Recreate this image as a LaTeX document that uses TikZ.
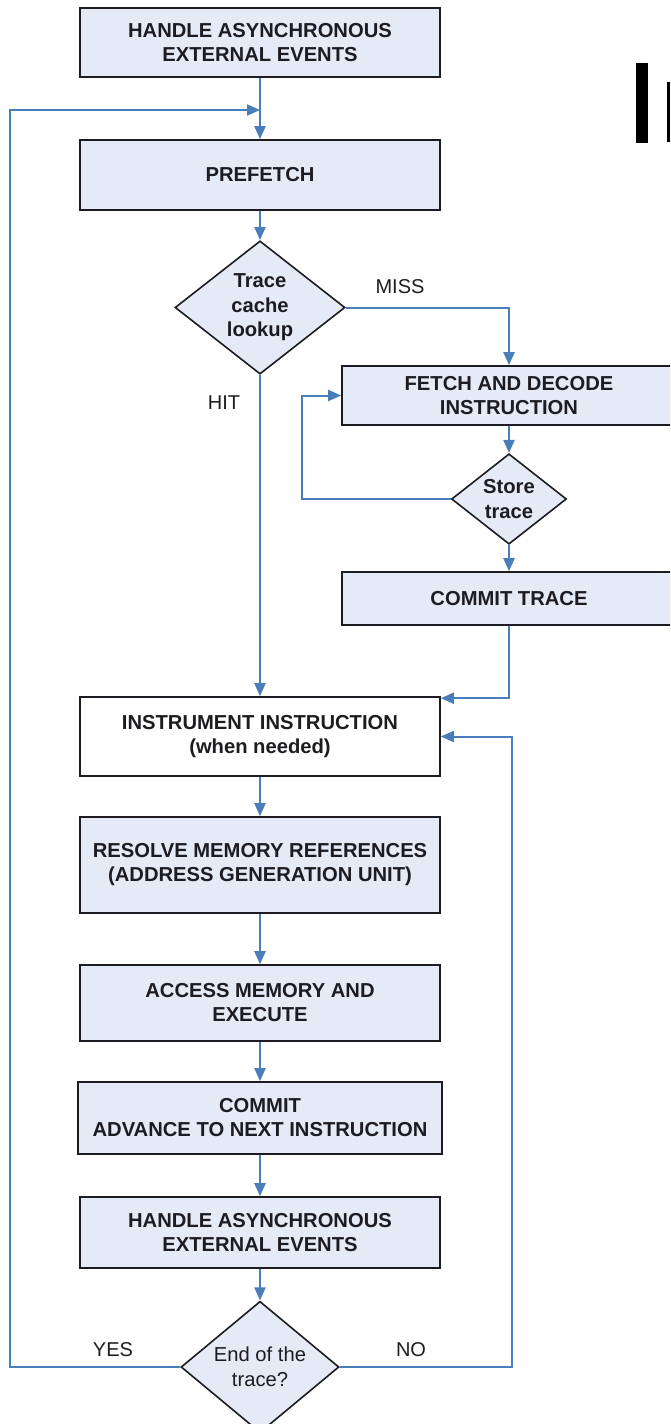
\documentclass[tikz,border=0pt]{standalone}
\usepackage{fontspec}
\setmainfont{Liberation Sans}
\usetikzlibrary{arrows.meta,shapes.geometric,calc}
\definecolor{boxfill}{RGB}{228,235,246}
\definecolor{flow}{RGB}{74,126,187}
\definecolor{ink}{RGB}{28,28,34}
\begin{document}
\begin{tikzpicture}[x=1pt,y=-1pt,
  box/.style={draw=ink, line width=1.6pt, fill=boxfill, minimum width=360pt,
    align=center, inner sep=0pt, text=ink,
    font=\fontsize{20.2}{24}\selectfont\bfseries},
  decision/.style={diamond, draw=ink, line width=1.6pt, fill=boxfill,
    inner sep=0pt, align=center, text=ink,
    font=\fontsize{20.2}{24.5}\selectfont\bfseries},
  flowline/.style={draw=flow, line width=2pt},
  arr/.style={flowline, -{Triangle[length=13pt,width=11pt]}},
  lbl/.style={text=ink, font=\fontsize{20}{24}\selectfont}]
\clip (0,0) rectangle (670,1424);
\useasboundingbox (0,0) rectangle (670,1424);

% main column of steps
\node[box, minimum height=69pt] (hae1) at (260,42.5) {HANDLE ASYNCHRONOUS\\EXTERNAL EVENTS};
\node[box, minimum height=70pt] (pre) at (260,175) {PREFETCH};
\node[decision, minimum width=170pt, minimum height=129pt] (tcl) at (260,307.5) {Trace\\cache\\lookup};

% trace cache miss path
\node[box, minimum width=334pt, minimum height=59pt] (fd) at (509,395.5) {FETCH AND DECODE\\INSTRUCTION};
\node[decision, minimum width=115pt, minimum height=82pt] (st) at (509,499) {Store\\trace};
\node[box, minimum width=334pt, minimum height=53pt] (ct) at (509,598.5) {COMMIT TRACE};

% per-instruction steps
\node[box, fill=white, minimum height=79pt] (ins) at (260,736.5) {INSTRUMENT INSTRUCTION\\(when needed)};
\node[box, minimum height=96pt] (res) at (260,865) {RESOLVE MEMORY REFERENCES\\(ADDRESS GENERATION UNIT)};
\node[box, minimum height=76pt] (acc) at (260,1003) {ACCESS MEMORY AND\\EXECUTE};
\node[box, minimum width=364pt, minimum height=72pt] (com) at (260,1118) {COMMIT\\ADVANCE TO NEXT INSTRUCTION};
\node[box, minimum height=71pt] (hae2) at (260,1232.5) {HANDLE ASYNCHRONOUS\\EXTERNAL EVENTS};
\node[decision, minimum width=158pt, minimum height=112pt,
  font=\fontsize{20.2}{24.5}\selectfont] (eot) at (260,1367) {End of the\\trace?};

% branch labels
\node[lbl] (lmiss) at (400,287) {MISS};
\node[lbl] (lhit) at (224,403) {HIT};
\node[lbl] (lyes) at (113,1350) {YES};
\node[lbl] (lno) at (411,1350) {NO};

% routing points
\coordinate (retL) at (10,110);
\coordinate (retJ) at (260,110);
\coordinate (stL) at (302,499);
\coordinate (noR) at (512,1367);

% connectors
\draw[arr] (hae1) -- (pre);
\draw[arr] (eot.west) -| (retL) -- (retJ);
\draw[arr] (pre) -- (tcl);
\draw[arr] (tcl.east) -| (fd.north);
\draw[arr] (tcl) -- (ins);
\draw[arr] (fd) -- (st);
\draw[arr] (st.west) -- (stL) |- (fd.west);
\draw[arr] (st) -- (ct);
\draw[arr] (ct.south) |- ([yshift=-2pt]ins.north east);
\draw[arr] (ins) -- (res);
\draw[arr] (res) -- (acc);
\draw[arr] (acc) -- (com);
\draw[arr] (com) -- (hae2);
\draw[arr] (hae2) -- (eot);
\draw[arr] (eot.east) -- (noR) |- (ins.east);

% heading fragment at the right edge
\fill[black] (636,63) rectangle (648,143);
\fill[black] (667,82) rectangle (670,142);
\end{tikzpicture}
\end{document}
